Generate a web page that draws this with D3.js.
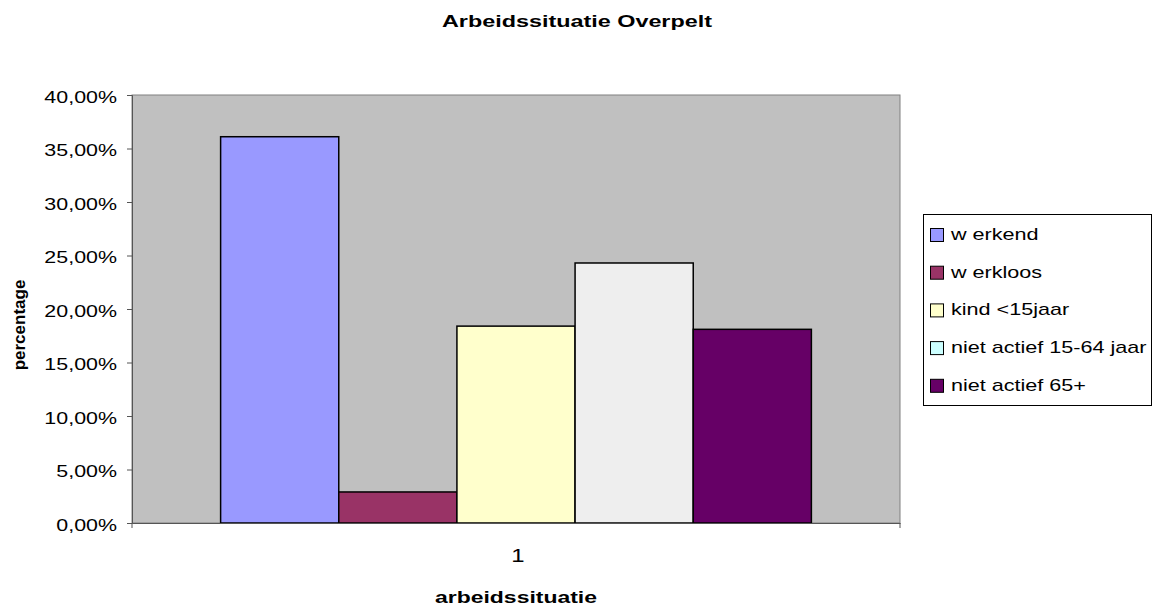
<!DOCTYPE html>
<html><head><meta charset="utf-8">
<script src="https://cdn.jsdelivr.net/npm/d3@7"></script>
<style>body{margin:0;background:#fff;font-family:Arial,"Liberation Sans",sans-serif;}</style>
</head><body><svg id="c" width="1157" height="608"></svg>
<script>
const categories = ["1"];
const seriesNames = ["w erkend", "w erkloos", "kind <15jaar", "niet actief 15-64 jaar", "niet actief 65+"];
const seriesValues = [36.1, 2.9, 18.4, 24.3, 18.1];
const barColors = ["#9999FF", "#993366", "#FFFFCC", "#EEEEEE", "#660066"];
const legendColors = ["#9999FF", "#993366", "#FFFFCC", "#CCFFFF", "#660066"];
const yTicks = [0, 5, 10, 15, 20, 25, 30, 35, 40];

const FONT = "Arial, 'Liberation Sans', sans-serif";
const SX = 1.26;
const svg = d3.select("#c");
const L = 132, R = 900, T = 95, B = 523;
const y = d3.scaleLinear().domain([0, 40]).range([B, T]);
const x0 = d3.scaleBand().domain(categories).range([L, R]);
const cw = x0.bandwidth();
const bw = cw / (seriesNames.length + 1.5);
const x1 = d3.scaleBand().domain(seriesNames)
  .range([cw/2 - bw*seriesNames.length/2, cw/2 + bw*seriesNames.length/2]);

svg.append("rect").attr("x", L).attr("y", T).attr("width", R-L).attr("height", B-T)
  .attr("fill", "#C0C0C0").attr("stroke", "#808080").attr("stroke-width", 1);

const g = svg.append("g").attr("transform", `translate(${x0("1")},0)`);
g.selectAll("rect").data(seriesValues).join("rect")
  .attr("x", (d,i) => x1(seriesNames[i]))
  .attr("y", d => y(d))
  .attr("width", x1.bandwidth())
  .attr("height", d => B - y(d))
  .attr("fill", (d,i) => barColors[i])
  .attr("stroke", "#000").attr("stroke-width", 1.5);

const fmt = v => v.toFixed(2).replace(".", ",") + "%";
const ya = svg.append("g").attr("transform", `translate(${L},0)`)
  .call(d3.axisLeft(y).tickValues(yTicks).tickFormat(fmt).tickSize(5));
ya.select(".domain").attr("stroke", "#555");
ya.selectAll("line").attr("stroke", "#555");
ya.selectAll("text").attr("font-size", 17).attr("fill", "#000").attr("font-family", FONT)
  .attr("x", 0).attr("dy", null).attr("y", 7)
  .attr("transform", `translate(-15,0) scale(${SX},1)`);

const xa = svg.append("g").attr("transform", `translate(0,${B})`)
  .call(d3.axisBottom(x0).tickSize(0));
xa.select(".domain").attr("stroke", "#555");
xa.selectAll("text").attr("font-size", 19).attr("fill", "#000").attr("font-family", FONT)
  .attr("y", 0).attr("dy", null)
  .attr("transform", `translate(2,39) scale(${SX},1)`);
svg.append("g").selectAll("line").data([L, R]).join("line")
  .attr("x1", d => d).attr("x2", d => d).attr("y1", B).attr("y2", B+5).attr("stroke", "#555");

svg.append("text").attr("x", 577).attr("y", 27).attr("text-anchor", "middle")
  .attr("font-size", 17).attr("font-weight", "bold").attr("font-family", FONT)
  .attr("textLength", 270).attr("lengthAdjust", "spacingAndGlyphs")
  .text("Arbeidssituatie Overpelt");
svg.append("text").attr("x", 516).attr("y", 603).attr("text-anchor", "middle")
  .attr("font-size", 17).attr("font-weight", "bold").attr("font-family", FONT)
  .attr("textLength", 162).attr("lengthAdjust", "spacingAndGlyphs")
  .text("arbeidssituatie");
svg.append("text").attr("transform", "translate(25,325) rotate(-90)").attr("text-anchor", "middle")
  .attr("font-size", 17).attr("font-weight", "bold").attr("font-family", FONT)
  .text("percentage");

const lg = svg.append("g");
lg.append("rect").attr("x", 923.5).attr("y", 214.5).attr("width", 228).attr("height", 191)
  .attr("fill", "#fff").attr("stroke", "#000").attr("stroke-width", 1);
const items = lg.selectAll("g.it").data(seriesNames).join("g")
  .attr("transform", (d,i) => `translate(0,${240 + i*37.7})`);
items.append("rect").attr("x", 930.5).attr("y", -11.5).attr("width", 13).attr("height", 13)
  .attr("fill", (d,i) => legendColors[i]).attr("stroke", "#000").attr("stroke-width", 1);
items.append("text").attr("font-size", 17).attr("font-family", FONT)
  .attr("transform", `translate(951,0) scale(1.27,1)`).text(d => d);
</script></body></html>
